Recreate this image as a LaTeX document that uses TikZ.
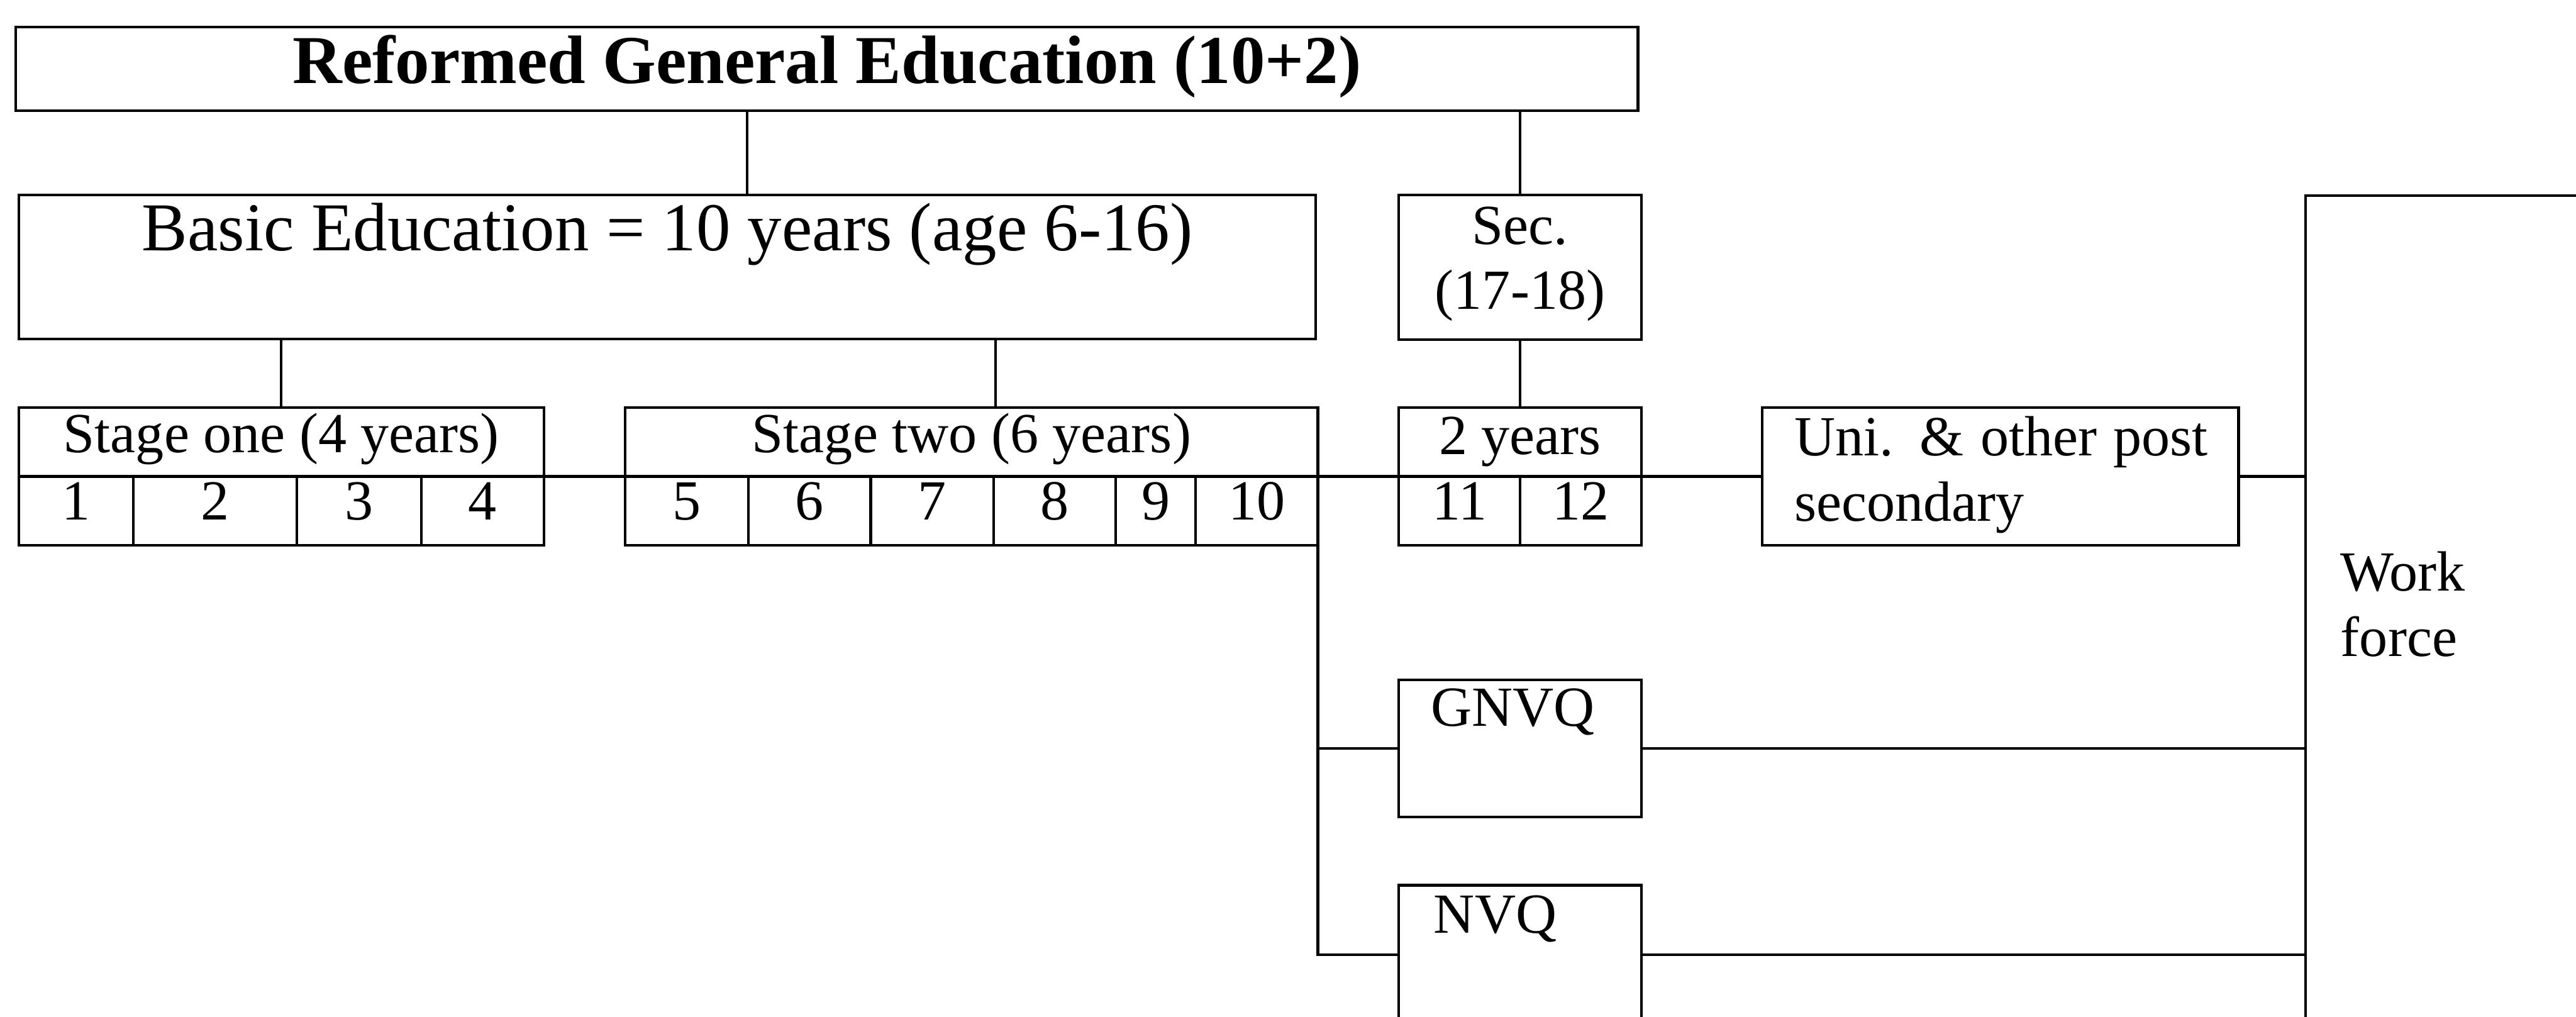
\documentclass[tikz,border=0pt]{standalone}
\usepackage{fontspec}
\setmainfont{Liberation Serif}
\begin{document}
\begin{tikzpicture}[x=1pt,y=-1pt,
  box/.style={draw, rectangle, inner sep=0pt, outer sep=0pt, line width=1.6pt},
  link/.style={line width=1.6pt},
  txt/.style={inner sep=0pt, outer sep=0pt, font=\fontsize{34.5}{39.5}\selectfont},
  big/.style={inner sep=0pt, outer sep=0pt, font=\fontsize{41.7}{48}\selectfont},
  bigbold/.style={inner sep=0pt, outer sep=0pt, font=\fontsize{41.7}{48}\selectfont\bfseries}]
\useasboundingbox (0,0) rectangle (1568,619);
\clip (0,0) rectangle (1568,619);

% boxes
\node[box, minimum width=987.3, minimum height=50.8] (title) at (503.35,41.9) {};
\node[box, minimum width=789.2, minimum height=87.6] (basic) at (406.2,162.4) {};
\node[box, minimum width=147.5, minimum height=88]   (sec)   at (925.25,162.6) {};
\node[box, minimum width=319.5, minimum height=84]   (s1)    at (171.25,290) {};
\node[box, minimum width=421.6, minimum height=84]   (s2)    at (591.4,290) {};
\node[box, minimum width=147.5, minimum height=84]   (yrs)   at (925.25,290) {};
\node[box, minimum width=289.9, minimum height=84]   (uni)   at (1217.65,290) {};
\node[box, minimum width=147.5, minimum height=83.3] (gnvq)  at (925.25,455.5) {};
\node[box, minimum width=147.5, minimum height=84.4] (nvq)   at (925.25,581) {};
\node[box, minimum width=400, minimum height=700]    (work)  at (1603.5,469) {};

% texts
\node[bigbold, anchor=base] (ttitle) at (503.35,50.9) {Reformed General Education (10+2)};
\node[big, anchor=base] (tbasic) at (406.2,152.6) {Basic Education = 10 years (age 6-16)};
\node[txt, anchor=base] (tsec1) at (925.25,148.7) {Sec.};
\node[txt, anchor=base] (tsec2) at (925.25,188) {(17-18)};
\node[txt, anchor=base] (ts1) at (171.25,275.5) {Stage one (4 years)};
\node[txt, anchor=base] (ts2) at (591.4,275.5) {Stage two (6 years)};
\node[txt, anchor=base] (tyrs) at (925.25,276.5) {2 years};
\node[txt, anchor=base west] (tuni1) at (1092.4,277.5) {\makebox[251.6pt][s]{Uni. \& other post}};
\node[txt, anchor=base west] (tuni2) at (1092.4,317) {secondary};
\node[txt, anchor=base west] (twork1) at (1424.8,359.8) {Work};
\node[txt, anchor=base west] (twork2) at (1424.8,399.6) {force};
\node[txt, anchor=base west] (tgnvq) at (871,442) {GNVQ};
\node[txt, anchor=base west] (tnvq) at (872.8,568) {NVQ};

% year numbers in the cells
\foreach \cx/\n in {46.35/1, 130.95/2, 218.65/3, 293.8/4,
                    418.05/5, 492.75/6, 567.4/7, 641.95/8, 703.45/9, 765/10,
                    888.4/11, 962.2/12}
  \node[txt, anchor=base] (y\n) at (\cx,316.5) {\n};

% cell dividers
\foreach \dx in {81.2, 180.7, 256.6}
  \draw[link] (s1.center -| \dx,0) -- (s1.south -| \dx,0);
\foreach \dx in {455.5, 530, 604.8, 679.1, 727.8}
  \draw[link] (s2.center -| \dx,0) -- (s2.south -| \dx,0);
\draw[link] (yrs.center) -- (yrs.south);

% connectors
\coordinate (jA) at (454.8,0);
\coordinate (jB) at (605.9,0);
\draw[link] (title.south -| jA) -- (basic.north -| jA);
\draw[link] (title.south -| sec.north) -- (sec.north);
\draw[link] (basic.south -| s1.north) -- (s1.north);
\draw[link] (basic.south -| jB) -- (s2.north -| jB);
\draw[link] (sec.south) -- (yrs.north);
\draw[link] (s1.west) -- (uni.west);
\draw[link] (uni.east) -- (uni.east -| work.west);
\draw[link] (s2.south east) |- (nvq.west);
\draw[link] (s2.south east |- gnvq.west) -- (gnvq.west);
\draw[link] (gnvq.east) -- (gnvq.east -| work.west);
\draw[link] (nvq.east) -- (nvq.east -| work.west);
\end{tikzpicture}
\end{document}
